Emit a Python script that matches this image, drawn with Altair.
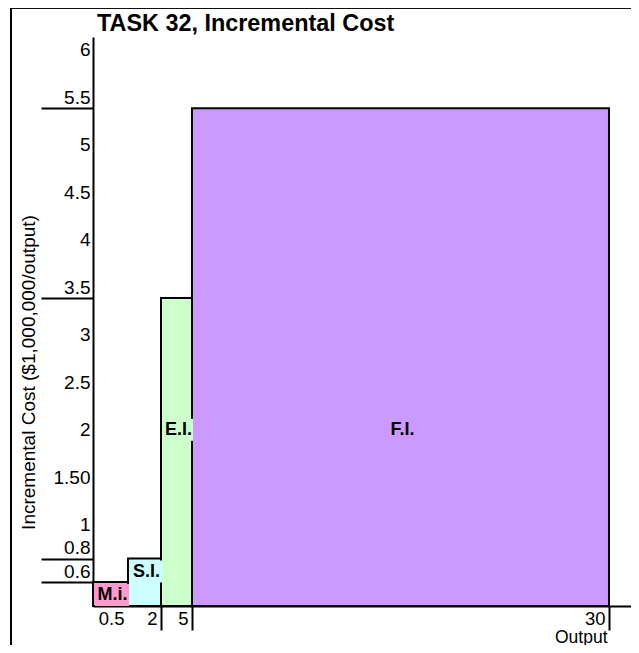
import altair as alt
import pandas as pd

# ---- data ----
names = ["M.i.", "S.I.", "E.I.", "F.I."]
out_start = [0, 0.5, 2, 5]
out_end = [0.5, 2, 5, 30]
cost = [0.6, 0.8, 3.5, 5.5]
colors = ["#ff99cc", "#ccffff", "#ccffcc", "#cc99ff"]

y_ticks = [6, 5.5, 5, 4.5, 4, 3.5, 3, 2.5, 2, 1.5, 1, 0.8, 0.6]
y_marked = [5.5, 3.5, 0.8, 0.6]
x_ticks = [0.5, 2, 5, 30]
title_text = "TASK 32, Incremental Cost"

df = pd.DataFrame({"name": names, "start": out_start, "end": out_end, "cost": cost})

FONT = "Liberation Sans"
W, H = 538, 569

# schematic (piecewise) scales as drawn in the original
xscale = alt.Scale(domain=[0, 0.5, 2, 5, 31.32], range=[0, 35, 68, 99, W], zero=False, nice=False)
yscale = alt.Scale(domain=[0.4, 0.6, 0.8, 1, 6.25], range=[H, 545, 521.5, 498.5, 0], zero=False, nice=False)
cscale = alt.Scale(domain=names, range=colors)

marked_test = "indexof([" + ",".join(str(v) for v in y_marked) + "], datum.value) >= 0"

xaxis = alt.Axis(
    values=x_ticks, title="Output", domainColor="black", domainWidth=2,
    tickColor="black", tickWidth=2, tickSize=24,
    tickOpacity={"condition": {"test": "datum.value == 0.5", "value": 0}, "value": 1},
    labelFont=FONT, labelFontSize=18.5, labelColor="black", labelAlign="right",
    labelBaseline="middle", labelOffset=-4, labelPadding=-12, labelFlush=False,
    labelOverlap=False, labelExpr="format(datum.value, '~g')", grid=False,
    titleFont=FONT, titleFontSize=17.5, titleFontWeight="normal", titleColor="black",
    titleX=514, titleY=31, titleAlign="right", titleBaseline="middle", titleAnchor="end",
)
yaxis = alt.Axis(
    values=y_ticks, title="Incremental Cost ($1,000,000/output)",
    domainColor="black", domainWidth=2,
    tickColor="black", tickWidth=2, tickSize=52,
    tickOpacity={"condition": {"test": marked_test, "value": 1}, "value": 0},
    labelFont=FONT, labelFontSize=19, labelColor="black", labelAlign="right",
    labelBaseline="middle", labelOffset=-11, labelPadding=-49, labelOverlap=False,
    labelExpr="datum.value == 1.5 ? '1.50' : format(datum.value, '~g')", grid=False,
    titleFont=FONT, titleFontSize=19, titleFontWeight="normal", titleColor="black",
    titleX=-65, titleY=335, titleAngle=270, titleAlign="center", titleBaseline="middle",
)

base = alt.Chart(df)

bars = base.mark_rect(stroke="black", strokeWidth=2).encode(
    x=alt.X("start:Q", scale=xscale, axis=xaxis),
    x2="end:Q",
    y=alt.Y("cost:Q", scale=yscale, axis=yaxis),
    y2=alt.datum(0.4),
    color=alt.Color("name:N", scale=cscale, legend=None),
)

lab = base.transform_calculate(
    mid="(datum.start + datum.end) / 2",
    ly="min(datum.cost, 2.25)",
)

boxes = lab.transform_filter("datum.name != 'F.I.'").mark_rect(
    xOffset=2, x2Offset=1, yOffset=2, y2Offset=24
).encode(
    x=alt.X("start:Q", scale=xscale),
    x2="end:Q",
    y=alt.Y("ly:Q", scale=yscale),
    y2="ly:Q",
    color=alt.Color("name:N", scale=cscale, legend=None),
)

texts = lab.mark_text(
    font=FONT, fontSize=18, fontWeight="bold", color="black",
    baseline="middle", align="center", dx=2, dy=13,
).encode(
    x=alt.X("mid:Q", scale=xscale),
    y=alt.Y("ly:Q", scale=yscale),
    text="name:N",
)

title = alt.Chart(pd.DataFrame({"t": [title_text]})).mark_text(
    font=FONT, fontSize=23.4, fontWeight="bold", color="black",
    align="left", baseline="alphabetic",
).encode(x=alt.value(4), y=alt.value(-6), text="t:N")

frame_left = alt.Chart(df).mark_rule(color="black", strokeWidth=2).encode(
    x=alt.value(-82), y=alt.value(-30), y2=alt.value(H + 60)
)
frame_top = alt.Chart(df).mark_rule(color="black", strokeWidth=2).encode(
    x=alt.value(-82), x2=alt.value(W + 10), y=alt.value(-29.5)
)

chart = alt.layer(bars, boxes, texts, title, frame_left, frame_top).properties(
    width=W, height=H,
    view=alt.ViewBackground(stroke="transparent", strokeWidth=0),
    autosize=alt.AutoSizeParams(type="none"),
    padding={"left": 85, "top": 29, "right": 0, "bottom": 39},
).configure_view(stroke=None, strokeWidth=0).configure_axis(grid=False).configure(
    background="white"
)

chart.save("out.html", embed_options={"renderer": "svg", "actions": False})
